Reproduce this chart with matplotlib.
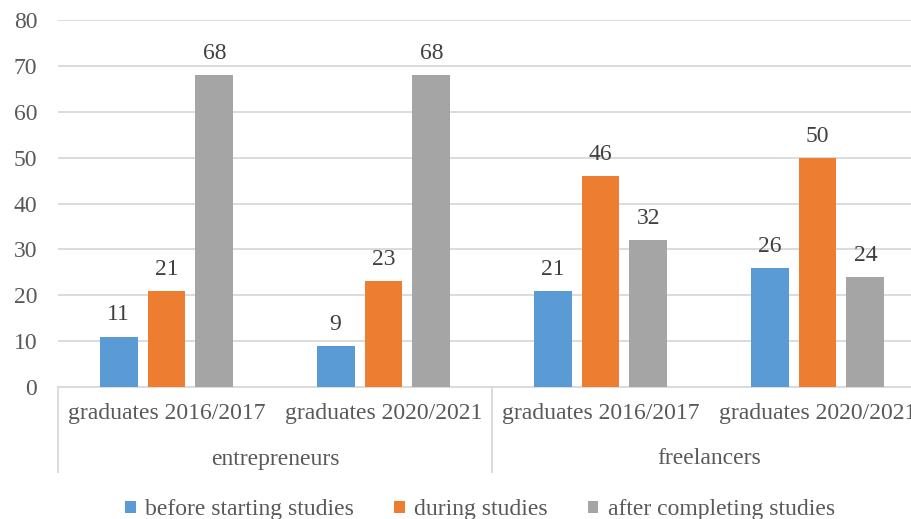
import matplotlib.pyplot as plt
from matplotlib.patches import Patch
import numpy as np

plt.rcParams['font.family'] = ['Liberation Serif', 'DejaVu Serif']

# ---------------- data ----------------
groups = ["entrepreneurs", "freelancers"]
categories = ["graduates 2016/2017", "graduates 2020/2021",
              "graduates 2016/2017", "graduates 2020/2021"]
series_names = ["before starting studies", "during studies", "after completing studies"]
before_vals = [11, 9, 21, 26]
during_vals = [21, 23, 46, 50]
after_vals = [68, 68, 32, 24]

colors = ["#5B9BD5", "#ED7D31", "#A5A5A5"]
text_col = "#595959"
grid_col = "#D9D9D9"
fs = 17

W, H = 912, 519
fig = plt.figure(figsize=(W / 100, H / 100), dpi=100)
# plot area runs a little past the right edge of the canvas
ax = fig.add_axes([58 / W, 1 - 387 / H, (926 - 58) / W, (387 - 20) / H])

x = np.arange(len(categories))
bw = 0.175
step = 0.221
for i, (vals, c) in enumerate(zip([before_vals, during_vals, after_vals], colors)):
    bars = ax.bar(x + (i - 1) * step, vals, width=bw, color=c, zorder=3)
    ax.bar_label(bars, labels=[str(v) for v in vals], padding=8,
                 fontsize=fs, color="#404040")

ax.set_xlim(-0.5, len(categories) - 0.5)
ax.set_ylim(0, 80)
ax.set_yticks(range(0, 81, 10))
ax.yaxis.grid(True, color=grid_col, linewidth=1.3)
ax.set_axisbelow(True)
for s in ["top", "right", "left"]:
    ax.spines[s].set_visible(False)
ax.spines["bottom"].set_color(grid_col)
ax.spines["bottom"].set_linewidth(1.3)
ax.tick_params(axis="y", length=0, labelsize=fs, labelcolor=text_col, pad=15)
ax.tick_params(axis="x", length=0, labelbottom=False)

# two-level category axis
px = 1 / (387 - 20)  # one pixel in axes-fraction units (vertical)
for xi, lab in zip(x, categories):
    ax.text(xi, -27 * px, lab, transform=ax.get_xaxis_transform(),
            ha="center", va="center", fontsize=fs, color=text_col, clip_on=False)
for gi, g in enumerate(groups):
    ax.text(gi * 2 + 0.5, -72 * px, g, transform=ax.get_xaxis_transform(),
            ha="center", va="center", fontsize=fs, color=text_col, clip_on=False)
for xb in [-0.5, 1.5, 3.5]:
    ax.plot([xb, xb], [0, -85 * px], transform=ax.get_xaxis_transform(),
            color=grid_col, linewidth=1.3, clip_on=False)

handles = [Patch(facecolor=c, edgecolor="none") for c in colors]
fig.legend(handles, series_names, loc="center", bbox_to_anchor=(480 / W, 1 - 510 / H),
           ncol=3, frameon=False, fontsize=fs, handlelength=0.45, handleheight=0.45,
           handletextpad=0.4, columnspacing=1.7, labelcolor=text_col)

fig.savefig("out.png", dpi=100)
